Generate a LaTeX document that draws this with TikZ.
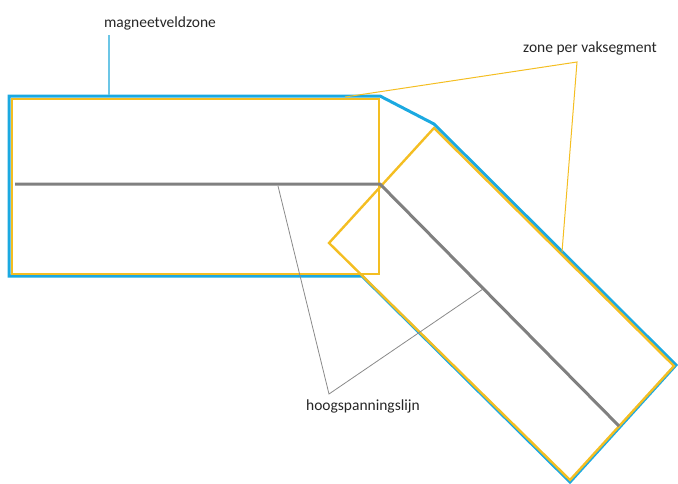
\documentclass[tikz,border=0pt]{standalone}
\usepackage{fontspec}
\setmainfont{Carlito}
\definecolor{zoneblue}{HTML}{1BA9E1}
\definecolor{segyellow}{HTML}{F4BE22}
\definecolor{linegray}{HTML}{808080}
\definecolor{leadblue}{HTML}{6CC6E6}
\definecolor{leadgray}{HTML}{8A8A8A}
\tikzset{
  blueedge/.style={draw=zoneblue, line width=3pt, line join=miter},
  yellowedge/.style={draw=segyellow, line width=2.4pt, line join=miter},
  hvline/.style={draw=linegray, line width=3pt},
  lbl/.style={font=\fontsize{15.5}{18}\selectfont, text=black!85, inner sep=1pt},
}
\begin{document}
\begin{tikzpicture}[x=1pt, y=-1pt]
  \useasboundingbox (0,0) rectangle (678,483);

  % magnetic field zone (outer contour)
  \draw[blueedge] (9,96) -- (380,96) -- (434,124) -- (676,365) -- (570,482)
        -- (362,276) -- (9,276) -- cycle;

  % zone per span segment
  \draw[yellowedge] (12,99) rectangle (379,274);
  \draw[yellowedge] (434,128) -- (674,366) -- (570,480) -- (329,243) -- cycle;

  % high-voltage line
  \coordinate (hvA) at (15,184);
  \coordinate (hvB) at (380,184);
  \coordinate (hvC) at (619,426);
  \draw[hvline] (hvA) -- (hvB) -- (hvC);

  % labels
  \node[lbl] (mz) at (160,23) {magneetveldzone};
  \node[lbl] (zs) at (590,48) {zone per vaksegment};
  \node[lbl] (hs) at (363,406) {hoogspanningslijn};

  % leader lines
  \coordinate (mzEnd) at (109,95);
  \draw[leadblue, line width=1.2pt] (109,35) -- (mzEnd);

  \coordinate (zsTip) at (577,62);
  \coordinate (zsL) at (345,97);
  \coordinate (zsR) at (562,252);
  \draw[segyellow, line width=1pt] (zsL) -- (zsTip) -- (zsR);

  \coordinate (hsTip) at (329,394);
  \coordinate (hsL) at (278,186);
  \coordinate (hsR) at (483,289);
  \draw[leadgray, line width=0.8pt] (hsL) -- (hsTip) -- (hsR);
\end{tikzpicture}
\end{document}
